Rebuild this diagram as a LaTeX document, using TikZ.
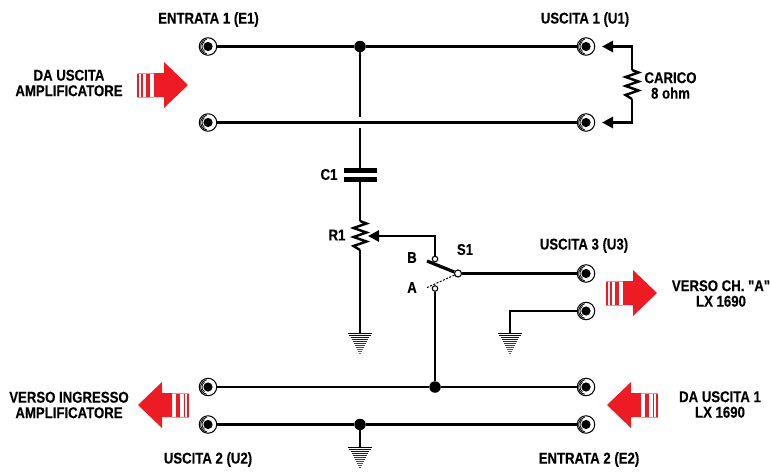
\documentclass[tikz,border=0pt]{standalone}
\usepackage{fontspec}
\usetikzlibrary{arrows.meta}
\newfontfamily\narrowbf[FakeStretch=0.845,FakeBold=0.25]{Liberation Sans Bold}
\definecolor{rosso}{HTML}{ED1C24}
\begin{document}
\begin{tikzpicture}[x=1pt,y=-1pt]
% Styles
\tikzset{
  filo/.style={line width=2.9pt},
  punta/.style={filo,-{Triangle[length=11pt,width=11pt]}},
  jack/.style={circle,draw=black,line width=1pt,fill=white,minimum size=17.5pt,inner sep=0pt,
    path picture={
      \fill[black] (path picture bounding box.center) circle (4.6);
      \draw[line width=0.9pt] (path picture bounding box.center) ++(100:7.4) arc (100:260:7.4);
      \draw[line width=0.7pt] (path picture bounding box.center) ++(125:6) arc (125:235:6);
    }},
  giunto/.style={circle,fill=black,minimum size=11.5pt,inner sep=0pt},
  contatto/.style={circle,draw=black,line width=1.1pt,fill=white,minimum size=5.5pt,inner sep=0pt},
  armatura/.style={rectangle,fill=black,minimum width=33pt,minimum height=5pt,inner sep=0pt},
  etichetta/.style={font=\narrowbf\fontsize{15.6}{15.5}\selectfont,align=center,inner sep=0pt},
  % Freccia rossa : origine sulla punta
  freccia/.pic={
    \fill[rosso] (0,0) -- (-24,-23) -- (-24,-12) -- (-34,-12) -- (-34,12) -- (-24,12) -- (-24,23) -- cycle;
    \fill[rosso] (-42,-12) rectangle (-38,12);
    \fill[rosso] (-47,-12) rectangle (-45.5,12);
    \fill[rosso] (-51,-12) rectangle (-49,12);
    \draw[rosso!50,line width=0.5pt] (-51,-12) -- (-34,-12) (-51,12) -- (-34,12);
  },
  % Massa : origine in alto
  massa/.pic={
    \foreach \i in {0,...,10}
      \draw[line width=1.6pt,black!\the\numexpr100-4*\i\relax] ({-12*(1-(\i*2+0.6)/22)},\i*2+0.6) -- ({12*(1-(\i*2+0.6)/22)},\i*2+0.6);
  },
  % Resistenza : origine in alto
  resistenza/.pic={
    \draw[line width=2.4pt,line join=miter] (0,0) -- (6.5,2.5) -- (-6.5,7) -- (6.5,11.5) -- (-6.5,16) -- (6.5,20.5) -- (-6.5,25) -- (0,29);
  }
}
\useasboundingbox (0,0) rectangle (770,471);
% Prese
\node[jack] (e1a) at (208,46.5) {};
\node[jack] (e1b) at (208,122.5) {};
\node[jack] (u1a) at (586,46.5) {};
\node[jack] (u1b) at (586,122.5) {};
\node[jack] (u3a) at (586,273.5) {};
\node[jack] (u3b) at (586,311) {};
\node[jack] (u2a) at (208,387) {};
\node[jack] (u2b) at (208,424.5) {};
\node[jack] (e2a) at (586,387) {};
\node[jack] (e2b) at (586,424.5) {};
% Linee orizzontali
\node[giunto] (g1) at (360,46.5) {};
\node[giunto] (g2) at (435,387) {};
\node[giunto] (g3) at (360,424.5) {};
\draw[filo] (e1a) -- (g1) -- (u1a);
\draw[filo] (e1b) -- (u1b);
\draw[filo] (u2a) -- (g2) -- (e2a);
\draw[filo] (u2b) -- (g3) -- (e2b);
% Carico
\coordinate (la) at (632,46.5);
\coordinate (lb) at (632,122.5);
\coordinate (ta) at (602,46.5);
\coordinate (tb) at (602,122.5);
\coordinate (lr1) at (632,70);
\coordinate (lr2) at (632,99);
\pic at (lr1) {resistenza};
\draw[punta] (lr1) -- (la) -- (ta);
\draw[punta] (lr2) -- (lb) -- (tb);
% C1 e R1
\coordinate (v1) at (360,116.5);
\coordinate (v2) at (360,128);
\node[armatura] (c1a) at (360,170.5) {};
\node[armatura] (c1b) at (360,179.5) {};
\coordinate (r1a) at (360,221);
\coordinate (r1b) at (360,250);
\coordinate (m1) at (360,333);
\draw[filo] (g1) -- (v1);
\draw[filo] (v2) -- (c1a);
\draw[filo] (c1b) -- (r1a);
\pic at (r1a) {resistenza};
\draw[filo] (r1b) -- (m1);
\pic at (m1) {massa};
% Commutatore S1
\node[contatto] (cb) at (435,259) {};
\node[contatto] (ca) at (435,288.5) {};
\node[contatto,minimum size=7pt] (s1) at (458,273.5) {};
\coordinate (cur) at (435,236);
\coordinate (tr) at (368,236);
\coordinate (lama) at (427,261);
\coordinate (ldot) at (426,288);
\draw[punta] (cb) -- (cur) -- (tr);
\draw[line width=3.2pt] (s1) -- (lama);
\draw[line width=1pt,dash pattern=on 2pt off 1.5pt] (s1) -- (ldot);
\draw[filo] (ca) -- (g2);
\draw[filo] (s1) -- (u3a);
% Masse
\coordinate (m2a) at (510,311);
\coordinate (m2) at (510,333);
\coordinate (m3) at (360,447);
\draw[filo] (u3b) -- (m2a) -- (m2);
\pic at (m2) {massa};
\draw[filo] (g3) -- (m3);
\pic at (m3) {massa};
% Frecce
\pic at (188,85) {freccia};
\pic at (657,293) {freccia};
\pic[xscale=-1] at (138,405) {freccia};
\pic[xscale=-1] at (607,405) {freccia};
% Testi
\node[etichetta] (te1) at (208.5,19.5) {ENTRATA 1 (E1)};
\node[etichetta] (tu1) at (585,19.5) {USCITA 1 (U1)};
\node[etichetta] (tda) at (69,83) {DA USCITA\\AMPLIFICATORE};
\node[etichetta] (tca) at (670.5,85.5) {CARICO\\8 ohm};
\node[etichetta] (tc1) at (329,174.5) {C1};
\node[etichetta] (tr1) at (337,235) {R1};
\node[etichetta] (tb1) at (412,257.5) {B};
\node[etichetta] (ta1) at (412,287.5) {A};
\node[etichetta] (ts1) at (465,249.5) {S1};
\node[etichetta] (tu3) at (584,245.5) {USCITA 3 (U3)};
\node[etichetta] (tch) at (721,293.5) {VERSO CH. "A"\\LX 1690};
\node[etichetta] (tvi) at (69,405) {VERSO INGRESSO\\AMPLIFICATORE};
\node[etichetta] (tdu) at (720,404.5) {DA USCITA 1\\LX 1690};
\node[etichetta] (tu2) at (208,459.5) {USCITA 2 (U2)};
\node[etichetta] (te2) at (589,459.5) {ENTRATA 2 (E2)};
\end{tikzpicture}
\end{document}
